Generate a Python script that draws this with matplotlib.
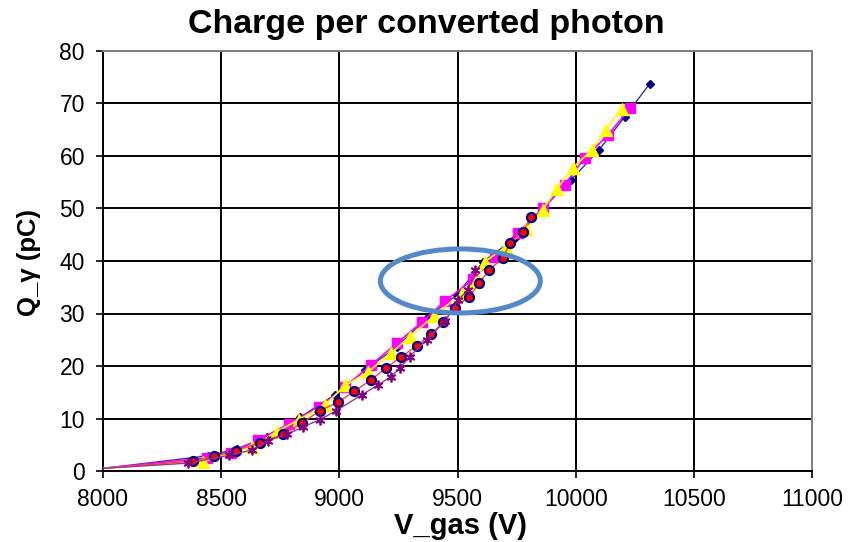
import matplotlib
matplotlib.use("Agg")
import matplotlib.pyplot as plt
from matplotlib.patches import Ellipse

# ---- data ----
navy_v = [8000, 8445, 8565, 8692, 8833, 8981, 9108, 9242, 9369, 9496, 9609, 9743, 9860, 9980, 10098, 10208, 10314]
navy_q = [0.5, 2.9, 4.2, 6.5, 10.2, 14.5, 19.2, 23.6, 29.1, 33.5, 39.9, 44.3, 50.0, 55.4, 61.1, 67.5, 73.8]

mag_v = [8000, 8438, 8540, 8657, 8788, 8915, 9025, 9134, 9242, 9348, 9447, 9567, 9658, 9757, 9860, 9954, 10039, 10137, 10229]
mag_q = [0.5, 2.5, 3.5, 5.9, 9.0, 12.2, 16.0, 20.2, 24.3, 28.3, 32.4, 36.5, 40.8, 45.4, 50.0, 54.5, 59.7, 64.0, 69.1]

yel_v = [8000, 8424, 8629, 8735, 8830, 8939, 9026, 9122, 9218, 9298, 9400, 9517, 9580, 9616, 9705, 9790, 9860, 9922, 9987, 10067, 10128, 10194]
yel_q = [0.5, 1.8, 4.6, 7.5, 9.8, 12.6, 16.3, 18.9, 22.4, 25.6, 29.5, 33.8, 36.0, 39.9, 42.7, 46.0, 49.8, 53.8, 57.7, 61.1, 65.0, 68.9]

red_v = [8000, 8382, 8470, 8563, 8664, 8763, 8840, 8918, 8995, 9064, 9132, 9197, 9260, 9330, 9387, 9440, 9488, 9550, 9592, 9634, 9691, 9722, 9778, 9810]
red_q = [0.5, 1.9, 2.8, 3.9, 5.4, 7.0, 9.1, 11.5, 13.1, 15.2, 17.3, 19.6, 21.7, 23.9, 26.1, 28.3, 31.1, 33.2, 35.8, 38.3, 40.5, 43.4, 45.6, 48.4]

pur_v = [8000, 8361, 8534, 8629, 8699, 8780, 8847, 8918, 8988, 9094, 9165, 9218, 9256, 9298, 9369, 9447, 9503, 9545, 9574]
pur_q = [0.5, 1.5, 3.0, 4.0, 5.8, 7.0, 8.4, 9.8, 11.5, 14.5, 16.4, 18.0, 19.6, 21.8, 25.0, 28.5, 32.6, 34.5, 38.3]

x_ticks = [8000, 8500, 9000, 9500, 10000, 10500, 11000]
y_ticks = [0, 10, 20, 30, 40, 50, 60, 70, 80]

title = "Charge per converted photon"
xlabel = "V_gas (V)"
ylabel = "Q_γ (pC)"

fig = plt.figure(figsize=(8.5, 5.42), dpi=100)
ax = fig.add_axes([103/850, 1-471/542, (812-103)/850, (471-51)/542])

me = slice(1, None)
ax.plot(navy_v, navy_q, color="#333399", lw=1.0, marker="D", ms=4.5, mfc="#000080", mec="#000080", markevery=me, zorder=3)
ax.plot(mag_v, mag_q, color="#FF00FF", lw=1.2, marker="s", ms=7.5, mfc="#FF00FF", mec="#FF00FF", markevery=me, zorder=3)
ax.plot(yel_v, yel_q, color="#FFFF00", lw=1.2, marker="^", ms=8, mfc="#FFFF00", mec="#FFFF00", markevery=me, zorder=3)
ax.plot(red_v, red_q, color="#FF4040", lw=1.0, marker="o", ms=6.5, mfc="#FF0000", mec="#000080", mew=1.6, markevery=me, zorder=4)
ax.plot(pur_v, pur_q, color="#993399", lw=1.0, marker=(6, 2, 0), ms=7, mfc="#800080", mec="#800080", mew=1.3, markevery=me, zorder=4)

ell = Ellipse((9512, 36.2), width=677, height=12.2, fill=False, edgecolor="#5588C8", lw=3.6, zorder=6)
ax.add_patch(ell)

ax.set_xlim(8000, 11000)
ax.set_ylim(0, 80)
ax.set_xticks(x_ticks)
ax.set_yticks(y_ticks)
ax.grid(True, color="black", lw=1.4)
ax.set_axisbelow(True)
for s in ["left", "bottom"]:
    ax.spines[s].set_color("black")
    ax.spines[s].set_linewidth(1.4)
for s in ["top", "right"]:
    ax.spines[s].set_color("#808080")
    ax.spines[s].set_linewidth(1.4)

ax.tick_params(axis="both", direction="out", length=5, width=1.2, color="black", labelsize=16.5)
ax.tick_params(axis="y", pad=8)
ax.tick_params(axis="x", pad=7)
for lab in ax.get_xticklabels() + ax.get_yticklabels():
    lab.set_fontfamily("Liberation Sans")

fig.text(426/850, 1-25/542, title, ha="center", va="center", fontsize=24.5, fontweight="bold", family="Liberation Sans")
fig.text(461/850, 1-526/542, xlabel, ha="center", va="center", fontsize=21, fontweight="bold", family="Liberation Sans")
fig.text(29/850, 1-262/542, ylabel, ha="center", va="center", rotation=90, fontsize=18.5, fontweight="bold", family="Liberation Sans")

fig.savefig("out.png", dpi=100)
